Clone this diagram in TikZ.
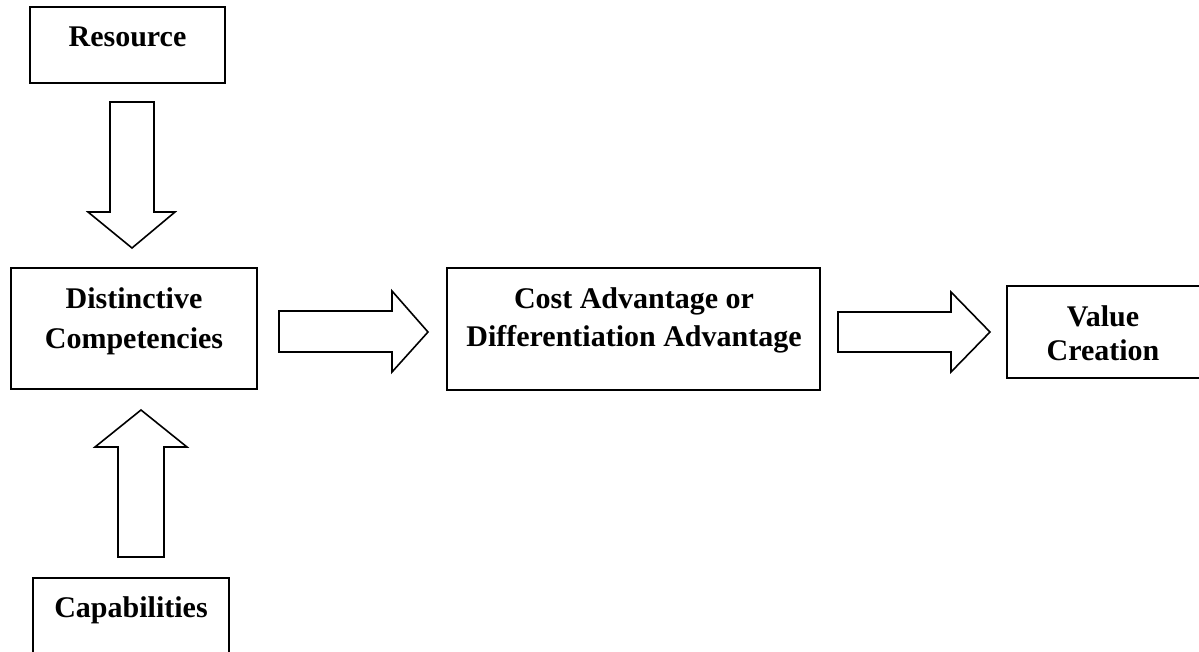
\documentclass[tikz,border=0pt]{standalone}
\usepackage{fontspec}
\setmainfont{Liberation Serif}
\begin{document}
\begin{tikzpicture}[x=1pt,y=-1pt,
  box/.style={draw=black,line width=1.6pt,fill=white},
  barrow/.style={draw=black,line width=1.6pt,fill=white,line join=miter},
  lbl/.style={font=\fontsize{30}{40}\selectfont\bfseries,anchor=base,inner sep=0pt}]
\useasboundingbox (0,0) rectangle (1199,651);
% boxes
\draw[box] (30,7) rectangle (225,83);
\draw[box] (11,268) rectangle (257,389);
\draw[box] (447,268) rectangle (820,390);
\draw[box] (1007,286) rectangle (1205,378);
\draw[box] (33,578) rectangle (229,660);
% labels
\node[lbl] (tres) at (127.5,46) {Resource};
\node[lbl] (tdis1) at (134,308) {Distinctive};
\node[lbl] (tdis2) at (134,348) {Competencies};
\node[lbl] (tcost1) at (634,308) {Cost Advantage or};
\node[lbl] (tcost2) at (634,346) {Differentiation Advantage};
\node[lbl] (tval1) at (1103,326) {Value};
\node[lbl] (tval2) at (1103,360) {Creation};
\node[lbl] (tcap) at (131,617) {Capabilities};
% block arrows
\draw[barrow] (110,102) -- (154,102) -- (154,212) -- (175,212) -- (132,248) -- (88,212) -- (110,212) -- cycle;
\draw[barrow] (118,557) -- (164,557) -- (164,447) -- (187,447) -- (141,410) -- (95,447) -- (118,447) -- cycle;
\draw[barrow] (279,311) -- (392,311) -- (392,291) -- (428,332) -- (392,372) -- (392,352) -- (279,352) -- cycle;
\draw[barrow] (838,312) -- (951,312) -- (951,292) -- (990,332) -- (951,372) -- (951,352) -- (838,352) -- cycle;
\end{tikzpicture}
\end{document}
